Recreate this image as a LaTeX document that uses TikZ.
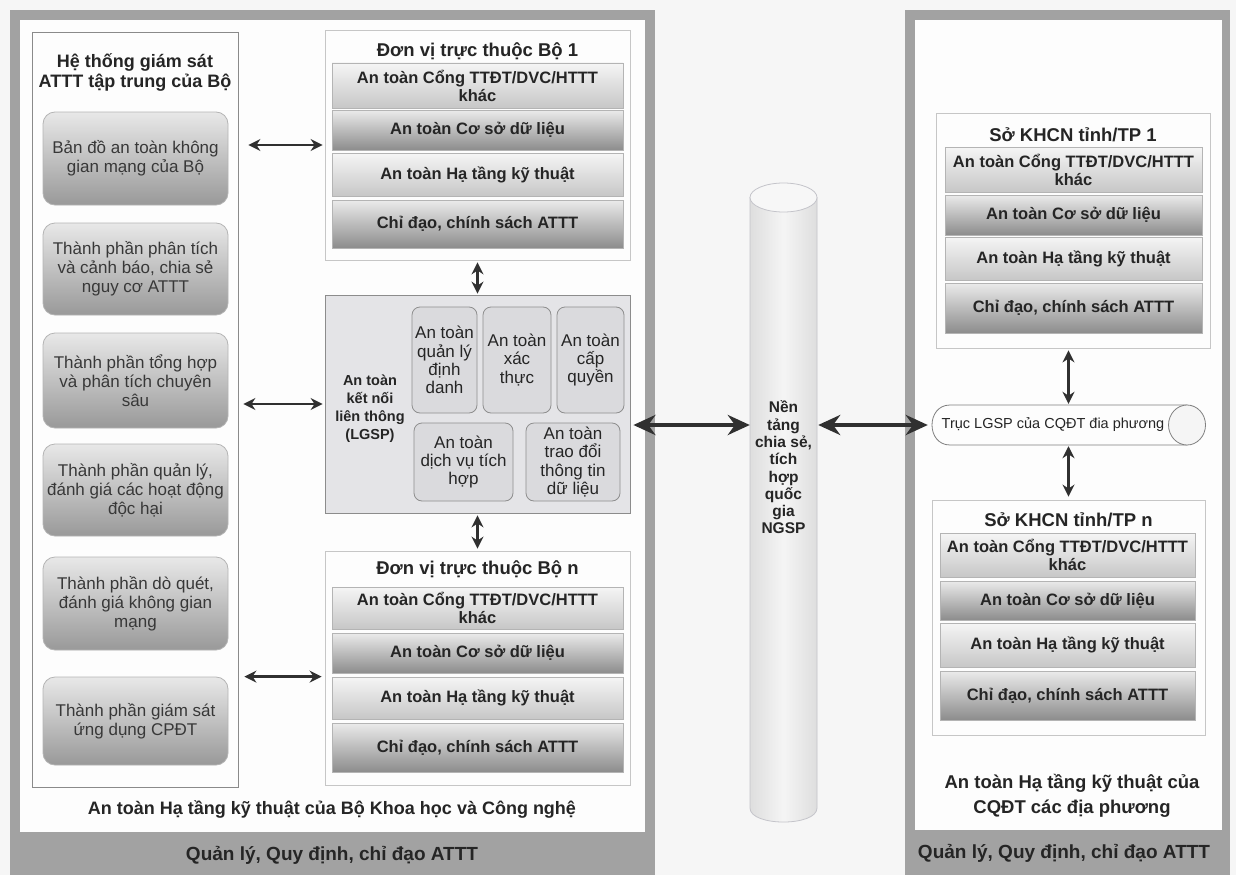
\documentclass[tikz,border=0pt]{standalone}
\usepackage{fontspec}
\setmainfont{Liberation Sans}
\usetikzlibrary{arrows.meta,calc}
\definecolor{bgc}{HTML}{F6F6F6}
\definecolor{framec}{HTML}{A2A2A2}
\definecolor{innerc}{HTML}{FDFDFD}
\definecolor{txtc}{HTML}{252525}
\definecolor{colb}{HTML}{8A8A8A}
\definecolor{contb}{HTML}{C6C6C6}
\definecolor{layb}{HTML}{B4B4B4}
\definecolor{lgspf}{HTML}{E4E4E7}
\definecolor{subf}{HTML}{DADADD}
\definecolor{subb}{HTML}{8E8E8E}
\definecolor{cylb}{HTML}{C4C4CA}
\definecolor{arrc}{HTML}{303030}
\begin{document}
\begin{tikzpicture}[x=1pt,y=-1pt,
  every node/.style={text=txtc},
  bandtext/.style={font=\bfseries\fontsize{19}{22}\selectfont},
  bigtext/.style={font=\bfseries\fontsize{18}{25}\selectfont, align=center},
  colbox/.style={draw=colb, line width=0.8pt, fill=innerc, inner sep=0pt},
  contbox/.style={draw=contb, line width=0.8pt, fill=innerc, inner sep=0pt},
  ttl/.style={font=\bfseries\fontsize{18}{20}\selectfont, align=center},
  gbox/.style={draw=layb, line width=0.8pt, rounded corners=12pt, top color=black!9, bottom color=black!40, inner sep=1pt, align=center, font=\fontsize{17}{19}\selectfont, text=black!78},
  layL/.style={draw=layb, line width=0.7pt, top color=black!4, bottom color=black!22, inner sep=0pt, align=center, font=\bfseries\fontsize{16.5}{18}\selectfont},
  layD/.style={draw=layb, line width=0.7pt, top color=black!8, bottom color=black!45, inner sep=0pt, align=center, font=\bfseries\fontsize{16.5}{18}\selectfont},
  lgspbox/.style={draw=black!45, line width=0.8pt, fill=lgspf, inner sep=0pt},
  subbox/.style={draw=subb, line width=0.8pt, fill=subf, rounded corners=8pt, inner sep=0pt, align=center, font=\fontsize{17}{18.3}\selectfont},
  lgsptitle/.style={font=\bfseries\fontsize{14.5}{18}\selectfont, align=center},
  ngsptext/.style={font=\bfseries\fontsize{15.5}{17.3}\selectfont, align=center},
  sarr/.style={draw=arrc, line width=2.8pt, {Stealth[length=12pt,width=12pt]}-{Stealth[length=12pt,width=12pt]}},
  barr/.style={draw=arrc, line width=4pt, {Stealth[length=22pt,width=20pt]}-{Stealth[length=22pt,width=20pt]}},
  ghost/.style={inner sep=0pt, draw=none}
]
\useasboundingbox (0,0) rectangle (1236,875);
\fill[bgc] (0,0) rectangle (1236,875);

% ---------- left frame ----------
\fill[framec] (10,10) rectangle (655,875);
\fill[innerc] (20,20) rectangle (645,832);
\node[bandtext] (bandL) at (332,855) {Quản lý, Quy định, chỉ đạo ATTT};
\node[bigtext] (capL) at (332,809) {An toàn Hạ tầng kỹ thuật của Bộ Khoa học và Công nghệ};

% ---------- right frame ----------
\fill[framec] (905,10) rectangle (1230,875);
\fill[innerc] (915,20) rectangle (1222,830);
\node[bandtext] (bandR) at (1064,853) {Quản lý, Quy định, chỉ đạo ATTT};
\node[bigtext, font=\bfseries\fontsize{18.5}{25}\selectfont] (capR) at (1072,796) {An toàn Hạ tầng kỹ thuật của\\CQĐT các địa phương};

% ---------- left column ----------
\node[colbox, minimum width=206, minimum height=755] (col) at (135,409.5) {};
\node[ttl] (colt) at (135,72) {Hệ thống giám sát\\ATTT tập trung của Bộ};
\node[gbox, minimum width=185, minimum height=93] (g1) at (135.5,158.5) {Bản đồ an toàn không\\gian mạng của Bộ};
\node[gbox, minimum width=185, minimum height=92] (g2) at (135.5,269) {Thành phần phân tích\\và cảnh báo, chia sẻ\\nguy cơ ATTT};
\node[gbox, minimum width=185, minimum height=95] (g3) at (135.5,380.5) {Thành phần tổng hợp\\và phân tích chuyên\\sâu};
\node[gbox, minimum width=185, minimum height=92] (g4) at (135.5,490) {Thành phần quản lý,\\đánh giá các hoạt động\\độc hại};
\node[gbox, minimum width=185, minimum height=93] (g5) at (135.5,603.5) {Thành phần dò quét,\\đánh giá không gian\\mạng};
\node[gbox, minimum width=185, minimum height=88] (g6) at (135.5,721) {Thành phần giám sát\\ứng dụng CPĐT};

% ---------- Don vi truc thuoc Bo 1 ----------
\node[contbox, minimum width=305, minimum height=230] (dv1) at (477.5,145) {};
\node[ttl, font=\bfseries\fontsize{18.5}{20}\selectfont] (dv1t) at (477.5,51) {Đơn vị trực thuộc Bộ 1};
\node[layL, minimum width=291, minimum height=45] (t1) at (477.5,85.5) {An toàn Cổng TTĐT/DVC/HTTT\\khác};
\node[layD, minimum width=291, minimum height=40] (t2) at (477.5,130) {An toàn Cơ sở dữ liệu};
\node[layL, minimum width=291, minimum height=43] (t3) at (477.5,174.5) {An toàn Hạ tầng kỹ thuật};
\node[layD, minimum width=291, minimum height=48] (t4) at (477.5,224) {Chỉ đạo, chính sách ATTT};

% ---------- LGSP ----------
\node[lgspbox, minimum width=305, minimum height=218] (lgsp) at (477.5,404) {};
\node[lgsptitle] (lgspt) at (370,409) {An toàn\\kết nối\\liên thông\\(LGSP)};
\node[subbox, minimum width=65, minimum height=106] (s1) at (444.5,360) {An toàn\\quản lý\\định\\danh};
\node[subbox, minimum width=68, minimum height=106] (s2) at (517,360) {An toàn\\xác\\thực};
\node[subbox, minimum width=67, minimum height=106] (s3) at (590.5,360) {An toàn\\cấp\\quyền};
\node[subbox, minimum width=99, minimum height=78] (s4) at (463.5,462) {An toàn\\dịch vụ tích\\hợp};
\node[subbox, minimum width=94, minimum height=78] (s5) at (573,462) {An toàn\\trao đổi\\thông tin\\dữ liệu};

% ---------- Don vi truc thuoc Bo n ----------
\node[contbox, minimum width=305, minimum height=234] (dvn) at (477.5,668) {};
\node[ttl, font=\bfseries\fontsize{18.5}{20}\selectfont] (dvnt) at (477.5,569) {Đơn vị trực thuộc Bộ n};
\node[layL, minimum width=291, minimum height=42] (b1) at (477.5,608) {An toàn Cổng TTĐT/DVC/HTTT\\khác};
\node[layD, minimum width=291, minimum height=40] (b2) at (477.5,653) {An toàn Cơ sở dữ liệu};
\node[layL, minimum width=291, minimum height=42] (b3) at (477.5,698) {An toàn Hạ tầng kỹ thuật};
\node[layD, minimum width=291, minimum height=49] (b4) at (477.5,747.5) {Chỉ đạo, chính sách ATTT};

% ---------- NGSP cylinder ----------
\node[ghost, minimum width=67, minimum height=639] (ngsp) at (783.5,502.5) {};
\path[draw=cylb, line width=0.8pt, left color=black!13, right color=black!13, middle color=black!4]
  (750,197.5) -- (750,808) .. controls (750,826.7) and (817,826.7) .. (817,808) -- (817,197.5) -- cycle;
\draw[cylb, line width=0.8pt, fill=black!3] (783.5,197.5) ellipse [x radius=33.5pt, y radius=14.5pt];
\node[ngsptext] (ngspt) at (783.5,467.5) {Nền\\tảng\\chia sẻ,\\tích\\hợp\\quốc\\gia\\NGSP};

% ---------- So KHCN tinh/TP 1 ----------
\node[contbox, minimum width=274, minimum height=235] (sk1) at (1073,230.5) {};
\node[ttl, font=\bfseries\fontsize{18.5}{20}\selectfont] (sk1t) at (1073,135) {Sở KHCN tỉnh/TP 1};
\node[layL, minimum width=257, minimum height=45] (k1) at (1073.5,169.5) {An toàn Cổng TTĐT/DVC/HTTT\\khác};
\node[layD, minimum width=257, minimum height=40] (k2) at (1073.5,215) {An toàn Cơ sở dữ liệu};
\node[layL, minimum width=257, minimum height=43] (k3) at (1073.5,258.5) {An toàn Hạ tầng kỹ thuật};
\node[layD, minimum width=257, minimum height=50] (k4) at (1073.5,308) {Chỉ đạo, chính sách ATTT};

% ---------- Truc LGSP dia phuong ----------
\node[ghost, minimum width=273, minimum height=40] (truc) at (1068.5,425) {};
\path[draw=black!50, line width=0.8pt, fill=innerc]
  (950,405) -- (1187,405) -- (1187,445) -- (950,445) .. controls (926,445) and (926,405) .. (950,405) -- cycle;
\draw[black!50, line width=0.8pt, fill=black!4] (1187,425) ellipse [x radius=18.5pt, y radius=20pt];
\node[font=\fontsize{14.5}{16}\selectfont] (trucT) at (1053,425) {Trục LGSP của CQĐT đia phương};

% ---------- So KHCN tinh/TP n ----------
\node[contbox, minimum width=273, minimum height=235] (skn) at (1068.5,617.5) {};
\node[ttl, font=\bfseries\fontsize{18.5}{20}\selectfont] (sknt) at (1068.5,520) {Sở KHCN tỉnh/TP n};
\node[layL, minimum width=255, minimum height=44] (n1) at (1067.5,555) {An toàn Cổng TTĐT/DVC/HTTT\\khác};
\node[layD, minimum width=255, minimum height=39] (n2) at (1067.5,600.5) {An toàn Cơ sở dữ liệu};
\node[layL, minimum width=255, minimum height=44] (n3) at (1067.5,645) {An toàn Hạ tầng kỹ thuật};
\node[layD, minimum width=255, minimum height=49] (n4) at (1067.5,695.5) {Chỉ đạo, chính sách ATTT};

% ---------- connectors ----------
\coordinate (hub) at (783.5,425);
\draw[sarr, shorten <=10pt, shorten >=2pt] (col.east |- dv1.center) -- (dv1.west);
\draw[sarr, shorten <=5pt, shorten >=2pt] (col.east |- lgsp.west) -- (lgsp.west);
\draw[sarr, shorten <=6pt, shorten >=3pt] (col.east |- g6.north) -- (dvn.west |- g6.north);
\draw[sarr, shorten <=2pt, shorten >=1pt] (dv1.south) -- (lgsp.north);
\draw[sarr, shorten <=2pt, shorten >=2pt] (lgsp.south) -- (dvn.north);
\draw[barr, shorten <=3pt] (lgsp.east |- hub) -- (ngsp.west |- hub);
\draw[barr, shorten <=1pt, shorten >=4pt] (ngsp.east |- hub) -- (truc.west |- hub);
\draw[sarr, shorten <=2pt, shorten >=1pt] (sk1.south -| truc) -- (truc.north);
\draw[sarr, shorten <=1pt, shorten >=3pt] (truc.south) -- (skn.north -| truc);
\end{tikzpicture}
\end{document}
